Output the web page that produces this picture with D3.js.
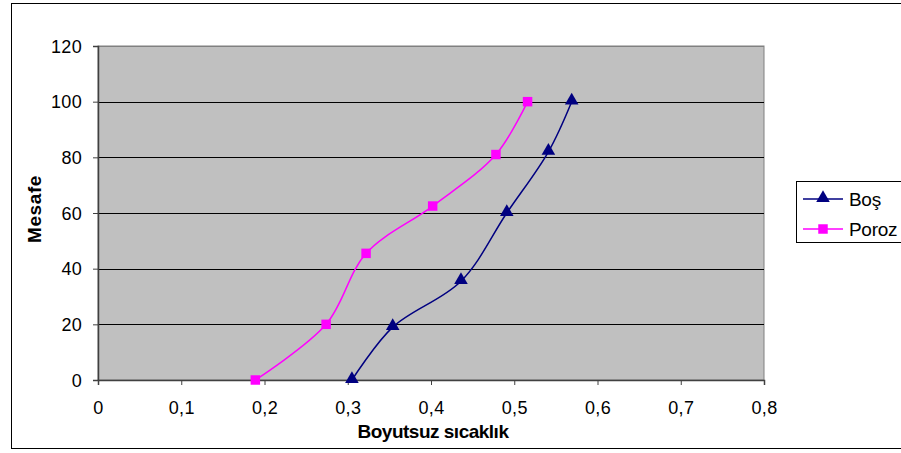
<!DOCTYPE html>
<html>
<head>
<meta charset="utf-8">
<script src="https://cdn.jsdelivr.net/npm/d3@7"></script>
<style>
body { margin: 0; background: #fff; }
svg text { font-family: "Liberation Sans", Arial, sans-serif; }
</style>
</head>
<body>
<div id="chart"></div>
<script>
// series values
var bosX = [0.305, 0.354, 0.436, 0.491, 0.541, 0.569];
var bosY = [0, 19, 35.5, 60, 82, 100];
var porozX = [0.189, 0.274, 0.322, 0.402, 0.478, 0.516];
var porozY = [0, 20, 45.5, 62.5, 81, 100];
var seriesNames = ["Boş", "Poroz"];
var seriesColors = ["#000080", "#FF00FF"];
var xTicks = [0, 0.1, 0.2, 0.3, 0.4, 0.5, 0.6, 0.7, 0.8];
var yTicks = [0, 20, 40, 60, 80, 100, 120];

function createChart()
{
    var width = 901, height = 453;
    var plot = {left: 98, right: 764, top: 46, bottom: 380};

    var x = d3.scaleLinear().domain([0, 0.8]).range([plot.left, plot.right]);
    var y = d3.scaleLinear().domain([0, 120]).range([plot.bottom, plot.top]);

    var svg = d3.select("#chart").append("svg")
      .attr("width", width)
      .attr("height", height);

    // outer chart border
    svg.append("rect")
      .attr("x", 11.5).attr("y", 3.5)
      .attr("width", 900).attr("height", 445)
      .attr("fill", "#fff").attr("stroke", "#000");

    svg.append("rect")
      .attr("x", plot.left).attr("y", plot.top)
      .attr("width", plot.right - plot.left).attr("height", plot.bottom - plot.top)
      .attr("fill", "#C0C0C0").attr("stroke", "#808080");

    // gridlines
    svg.append("g").selectAll("line")
      .data(yTicks.filter(d => d > 0))
      .enter().append("line")
      .attr("x1", plot.left).attr("x2", plot.right)
      .attr("y1", d => Math.round(y(d)) + 0.5).attr("y2", d => Math.round(y(d)) + 0.5)
      .attr("stroke", d => d == 120 ? "#808080" : "#000");

    var fmt = d => d3.format(".1f")(d).replace(".", ",");

    var xAxis = svg.append("g")
      .attr("transform", "translate(0," + plot.bottom + ")")
      .call(d3.axisBottom(x).tickValues(xTicks).tickSize(5).tickPadding(16)
        .tickFormat(d => d == 0 ? "0" : fmt(d)));
    var yAxis = svg.append("g")
      .attr("transform", "translate(" + plot.left + ",0)")
      .call(d3.axisLeft(y).tickValues(yTicks).tickSize(5).tickPadding(11));

    [xAxis, yAxis].forEach(g => {
      g.select(".domain").attr("stroke", "#404040").attr("stroke-width", 1.5);
      g.selectAll(".tick line").attr("stroke", "#404040");
      g.selectAll("text").attr("font-size", 18).attr("fill", "#000")
        .attr("letter-spacing", 0.3)
        .style("font-family", "'Liberation Sans', Arial, sans-serif");
    });
    yAxis.selectAll("text").attr("dy", "0.35em");

    var line = d3.line()
      .x(d => x(d[0])).y(d => y(d[1]))
      .curve(d3.curveCatmullRom.alpha(0.5));

    var series = [
      d3.zip(bosX, bosY),
      d3.zip(porozX, porozY)
    ];

    var triangle = d3.symbol().type(d3.symbolTriangle).size(80);
    var square = d3.symbol().type(d3.symbolSquare).size(90);
    var symbols = [triangle, square];

    series.forEach((pts, i) => {
      svg.append("path")
        .datum(pts)
        .attr("fill", "none")
        .attr("stroke", seriesColors[i])
        .attr("stroke-width", 1.5)
        .attr("d", line);
      svg.append("g").selectAll("path")
        .data(pts)
        .enter().append("path")
        .attr("transform", d => "translate(" + x(d[0]) + "," + (y(d[1]) - (i == 0 ? 1 : 0)) + ")")
        .attr("d", symbols[i]())
        .attr("fill", seriesColors[i]);
    });

    // axis titles
    svg.append("text")
      .attr("x", 433).attr("y", 438)
      .attr("text-anchor", "middle")
      .attr("font-size", 19).attr("font-weight", "bold")
      .attr("letter-spacing", -0.5)
      .text("Boyutsuz sıcaklık");

    // y title is cut off in the original
    svg.append("clipPath").attr("id", "ytclip")
      .append("rect").attr("x", 15).attr("y", 168).attr("width", 40).attr("height", 90);
    svg.append("g").attr("clip-path", "url(#ytclip)")
      .append("text")
      .attr("transform", "translate(41,243) rotate(-90)")
      .attr("font-size", 19).attr("font-weight", "bold")
      .attr("letter-spacing", 0.6)
      .text("Mesafe (m)");

    // legend
    var legend = svg.append("g");
    legend.append("rect")
      .attr("x", 796.5).attr("y", 181.5)
      .attr("width", 120).attr("height", 61)
      .attr("fill", "#fff").attr("stroke", "#000");
    var rows = [199, 229];
    seriesNames.forEach((name, i) => {
      legend.append("line")
        .attr("x1", 803).attr("x2", 843)
        .attr("y1", rows[i]).attr("y2", rows[i])
        .attr("stroke", seriesColors[i]).attr("stroke-width", 1.5);
      legend.append("path")
        .attr("transform", "translate(823," + (rows[i] - (i == 0 ? 1 : 0)) + ")")
        .attr("d", symbols[i]())
        .attr("fill", seriesColors[i]);
      legend.append("text")
        .attr("x", 849).attr("y", rows[i] + 7)
        .attr("font-size", 19)
        .attr("letter-spacing", -0.3)
        .text(name);
    });
}

createChart();
</script>
</body>
</html>
